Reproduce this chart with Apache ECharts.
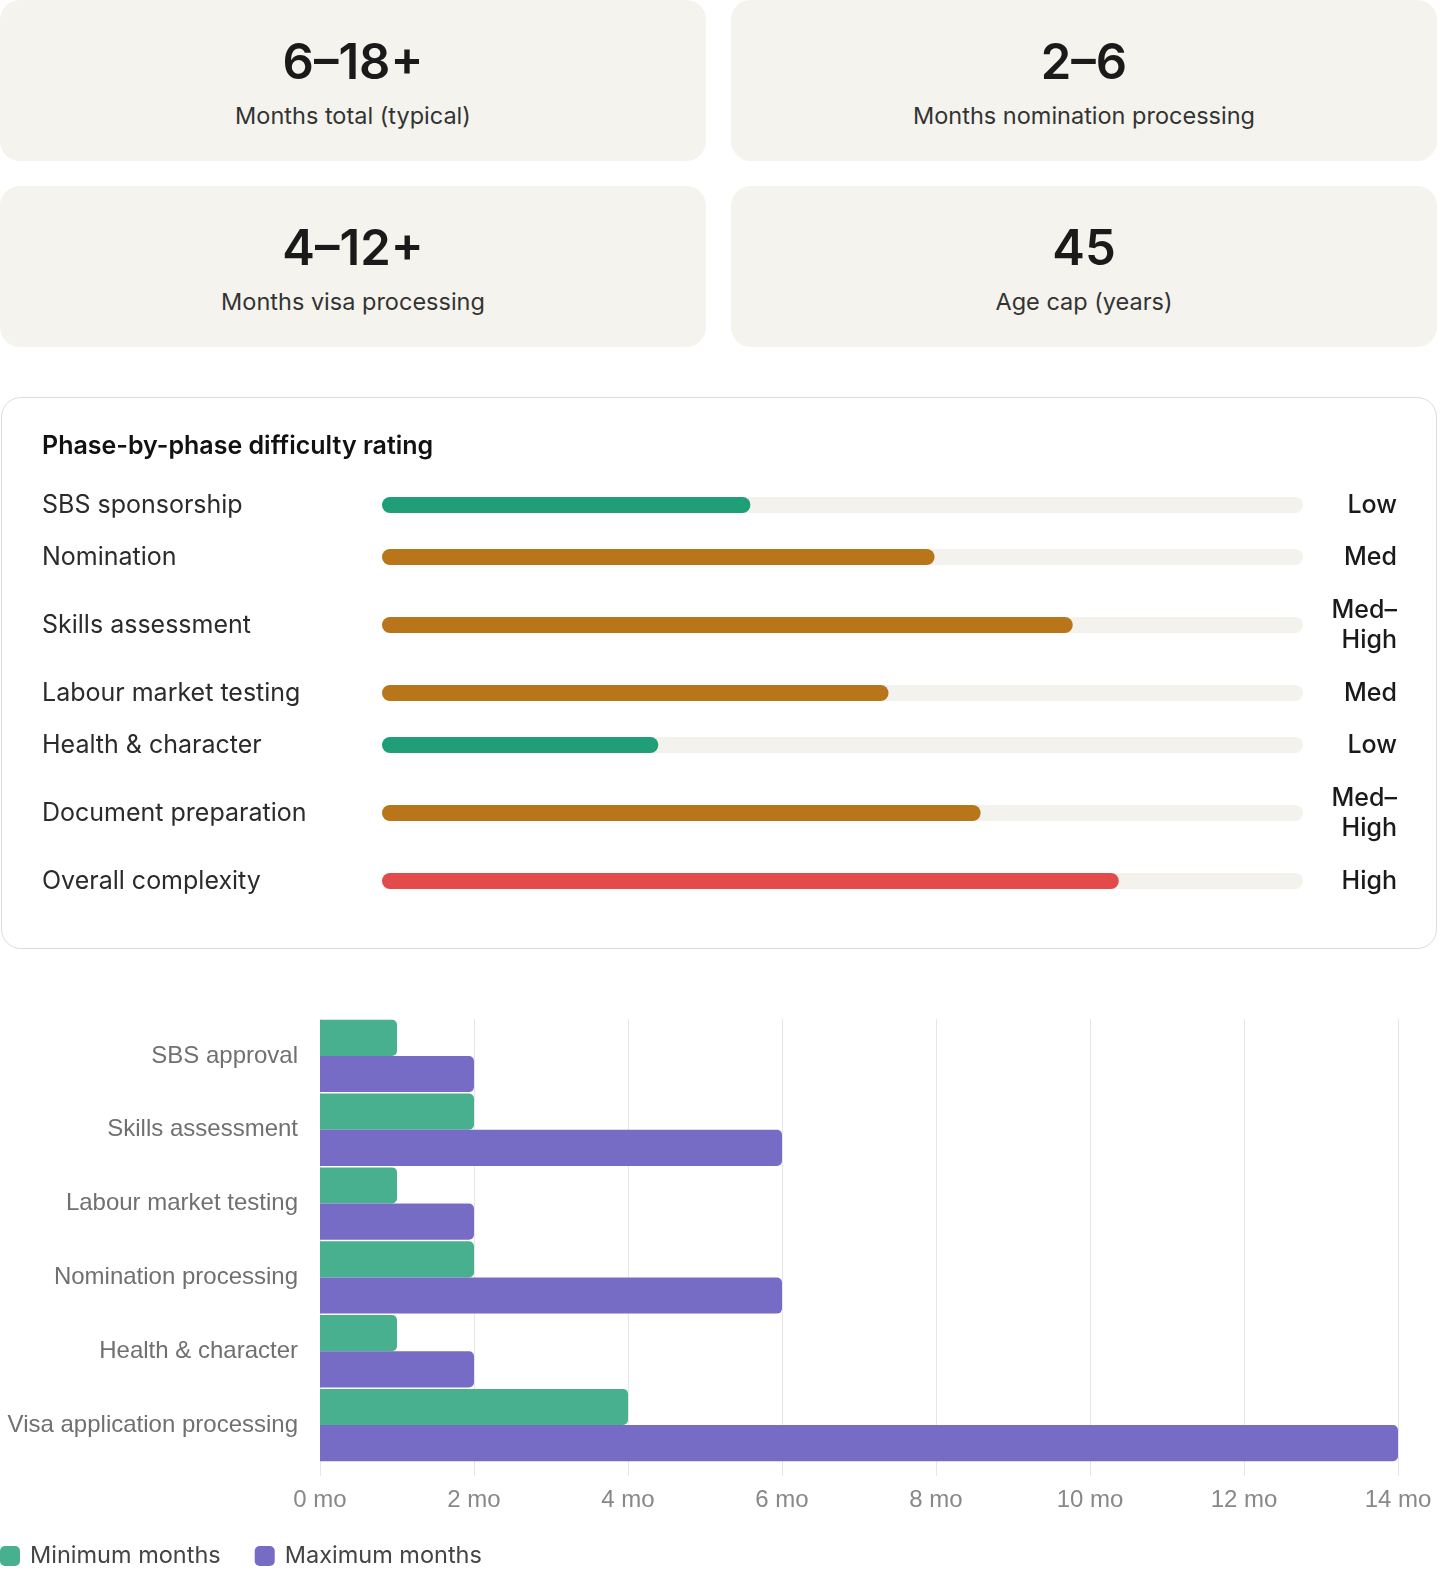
<!DOCTYPE html>
<html lang="en">
<head>
<meta charset="utf-8">
<title>Visa timeline</title>
<script src="https://cdn.jsdelivr.net/npm/echarts@6.0.0/dist/echarts.min.js"></script>
<style>
    html, body { margin: 0; background: #fff; font-family: Inter, "Noto Sans", sans-serif; overflow: hidden; }
    .page { position: relative; width: 1440px; height: 1570px; }
    .stat {
        position: absolute;
        width: 706px; height: 161px;
        background: #f4f3ed;
        border-radius: 20px;
        text-align: center;
    }
    .stat .num { position: absolute; left: 0; right: 0; top: 30px; font-size: 49px; font-weight: 600; color: #1a1a1a; line-height: 64px; }
    .stat .lbl { position: absolute; left: 0; right: 0; top: 100px; font-size: 23.5px; color: #333; line-height: 32px; }
    .card {
        position: absolute; left: 1px; top: 397px;
        width: 1434px; height: 550px;
        border: 1px solid #dcdcdc; border-radius: 20px;
    }
    #difficulty { width: 1434px; height: 550px; }
    #timeline { position: absolute; left: 0; top: 970px; width: 1440px; height: 600px; }
</style>
</head>
<body>
<div class="page">
    <div id="stats"></div>
    <div class="card"><div id="difficulty"></div></div>
    <div id="timeline"></div>
</div>

<script type="text/javascript">
    // stat cards
    var statValues = ['6–18+', '2–6', '4–12+', '45'];
    var statLabels = ['Months total (typical)', 'Months nomination processing', 'Months visa processing', 'Age cap (years)'];

    // difficulty rating
    var phases = ['SBS sponsorship', 'Nomination', 'Skills assessment', 'Labour market testing', 'Health & character', 'Document preparation', 'Overall complexity'];
    var difficulty = [40, 60, 75, 55, 30, 65, 80];
    var levels = ['Low', 'Med', 'Med–\nHigh', 'Med', 'Low', 'Med–\nHigh', 'High'];
    var levelColors = { 'Low': '#1f9e77', 'Med': '#b9751a', 'Med–\nHigh': '#b9751a', 'High': '#e24b4a' };

    // timeline chart
    var steps = ['SBS approval', 'Skills assessment', 'Labour market testing', 'Nomination processing', 'Health & character', 'Visa application processing'];
    var minMonths = [1, 2, 1, 2, 1, 4];
    var maxMonths = [2, 6, 2, 6, 2, 14];

    var statsBox = document.getElementById('stats');
    statValues.forEach(function (v, i) {
        var d = document.createElement('div');
        d.className = 'stat';
        d.style.left = (i % 2 ? 731 : 0) + 'px';
        d.style.top = (i < 2 ? 0 : 186) + 'px';
        d.innerHTML = '<div class="num">' + v + '</div><div class="lbl">' + statLabels[i] + '</div>';
        statsBox.appendChild(d);
    });

    // --- difficulty bars: one small grid per row
    var diffChart = echarts.init(document.getElementById('difficulty'));
    var grids = [], xAxes = [], yAxes = [], series = [];
    var y = 81;
    phases.forEach(function (p, i) {
        var rowH = levels[i].indexOf('\n') >= 0 ? 84 : 52;
        var center = y + rowH / 2;
        y += rowH;
        grids.push({ left: 380, width: 921, top: center - 8, height: 16 });
        xAxes.push({ gridIndex: i, type: 'value', min: 0, max: 100, show: false });
        yAxes.push({
            gridIndex: i, type: 'category', data: [p],
            axisLine: { show: false }, axisTick: { show: false },
            axisLabel: { align: 'left', margin: 340, fontSize: 25, color: '#2b2b2b', fontFamily: 'Inter' }
        });
        yAxes.push({
            gridIndex: i, type: 'category', position: 'right', data: [levels[i]],
            axisLine: { show: false }, axisTick: { show: false },
            axisLabel: { align: 'right', margin: 94, fontSize: 25, lineHeight: 30, fontWeight: 500, color: '#1a1a1a', fontFamily: 'Inter' }
        });
        series.push({
            type: 'bar', xAxisIndex: i, yAxisIndex: i * 2,
            barWidth: 16,
            showBackground: true,
            backgroundStyle: { color: '#f3f2ec', borderRadius: 8 },
            itemStyle: { color: levelColors[levels[i]], borderRadius: 8 },
            data: [difficulty[i]],
            silent: true
        });
    });
    diffChart.setOption({
        animation: false,
        title: {
            text: 'Phase-by-phase difficulty rating', left: 35, top: 31,
            textStyle: { fontSize: 25, fontWeight: 600, color: '#111', fontFamily: 'Inter' }
        },
        grid: grids, xAxis: xAxes, yAxis: yAxes, series: series
    });

    // --- min / max months chart
    var timeChart = echarts.init(document.getElementById('timeline'));
    timeChart.setOption({
        animation: false,
        textStyle: { fontFamily: 'Liberation Sans' },
        legend: {
            left: 0, top: 574, padding: 0,
            itemWidth: 20, itemHeight: 20, itemGap: 34,
            icon: 'roundRect',
            textStyle: { fontSize: 23.5, color: '#444', fontFamily: 'Inter', padding: [0, 0, 0, 5] },
            data: ['Minimum months', 'Maximum months']
        },
        grid: { left: 320, width: 1078, top: 49, height: 443 },
        xAxis: {
            type: 'value', min: 0, max: 14, interval: 2,
            axisLine: { show: false },
            axisTick: { show: true, length: 14, lineStyle: { color: '#e6e6e6' } },
            splitLine: { lineStyle: { color: '#e6e6e6' } },
            axisLabel: { formatter: '{value} mo', fontSize: 24, color: '#888', margin: 26 }
        },
        yAxis: {
            type: 'category', inverse: true, data: steps,
            axisLine: { show: false }, axisTick: { show: false },
            axisLabel: { fontSize: 24, color: '#707070', margin: 22 }
        },
        series: [{
            name: 'Minimum months', type: 'bar',
            barGap: '0%', barCategoryGap: '2%',
            itemStyle: { color: '#48b08f', borderRadius: [0, 5, 5, 0] },
            data: minMonths
        }, {
            name: 'Maximum months', type: 'bar',
            itemStyle: { color: '#766cc6', borderRadius: [0, 5, 5, 0] },
            data: maxMonths
        }]
    });
</script>
</body>
</html>
